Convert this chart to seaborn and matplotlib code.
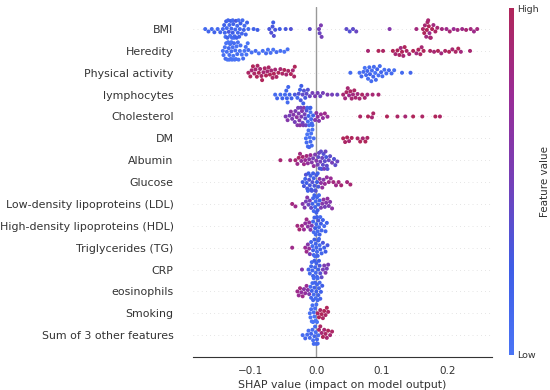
import matplotlib
matplotlib.use("Agg")
import matplotlib.pyplot as plt
import matplotlib.cm as cm
from matplotlib.colors import LinearSegmentedColormap, Normalize
import pandas as pd
import seaborn as sns

features = ["BMI", "Heredity", "Physical activity", "lymphocytes", "Cholesterol", "DM",
            "Albumin", "Glucose", "Low-density lipoproteins (LDL)",
            "High-density lipoproteins (HDL)", "Triglycerides (TG)", "CRP",
            "eosinophils", "Smoking", "Sum of 3 other features"]

bmi_shap = [-0.170, -0.165, -0.160, -0.156, -0.151, -0.147,
            -0.143, -0.141, -0.140, -0.139, -0.138, -0.137, -0.136, -0.135, -0.134, -0.133,
            -0.132, -0.131, -0.130, -0.129, -0.128, -0.128, -0.127, -0.126, -0.125, -0.124,
            -0.123, -0.122, -0.121, -0.120, -0.119, -0.118, -0.117, -0.116, -0.114, -0.113,
            -0.111, -0.110, -0.108, -0.106, -0.104,
            -0.096, -0.090, -0.072, -0.069, -0.067, -0.066, -0.065, -0.063, -0.056, -0.047, -0.039, -0.010,
            0.004, 0.005, 0.007, 0.008,
            0.046, 0.051, 0.056, 0.061,
            0.112, 0.153,
            0.163, 0.165, 0.166, 0.168, 0.169, 0.170, 0.171, 0.172, 0.173, 0.174, 0.175, 0.177, 0.179, 0.182, 0.185,
            0.192, 0.199, 0.204, 0.210, 0.216, 0.223, 0.229, 0.236, 0.241, 0.246]
bmi_value = [0.1, 0.15, 0.1, 0.2, 0.1, 0.15,
             0.1, 0.2, 0.15, 0.05, 0.25, 0.1, 0.2, 0.15, 0.3, 0.1,
             0.05, 0.2, 0.15, 0.1, 0.25, 0.1, 0.2, 0.05, 0.15, 0.1,
             0.3, 0.2, 0.1, 0.15, 0.05, 0.2, 0.1, 0.25, 0.15, 0.1,
             0.2, 0.1, 0.15, 0.2, 0.1,
             0.2, 0.25, 0.3, 0.35, 0.3, 0.25, 0.35, 0.3, 0.25, 0.3, 0.35, 0.4,
             0.5, 0.45, 0.55, 0.5,
             0.4, 0.35, 0.4, 0.45,
             0.6, 0.85,
             0.95, 1.0, 0.9, 0.85, 1.0, 0.95, 0.9, 1.0, 0.8, 0.95, 0.9, 1.0, 0.85, 0.95, 0.9,
             0.85, 0.8, 0.9, 0.75, 0.85, 0.8, 0.9, 0.85, 0.8, 0.85]

heredity_shap = [-0.143, -0.142, -0.140, -0.139, -0.138, -0.137, -0.136, -0.135, -0.134, -0.133,
                 -0.133, -0.132, -0.131, -0.130, -0.130, -0.129, -0.128, -0.127, -0.126, -0.125,
                 -0.124, -0.123, -0.122, -0.121, -0.120, -0.119, -0.117, -0.116, -0.114, -0.112,
                 -0.110, -0.108, -0.107, -0.105, -0.104,
                 -0.099, -0.093, -0.088, -0.082, -0.077, -0.074, -0.070, -0.066, -0.061, -0.055, -0.049, -0.044,
                 0.079, 0.095, 0.102, 0.117, 0.121, 0.124, 0.127, 0.129, 0.131, 0.133,
                 0.135, 0.138, 0.142, 0.148, 0.153, 0.156, 0.159, 0.161, 0.164, 0.174,
                 0.180, 0.186, 0.191, 0.197, 0.203, 0.208, 0.213, 0.217, 0.221, 0.235]
heredity_value = [0.0, 0.05, 0.0, 0.1, 0.0, 0.05, 0.0, 0.0, 0.1, 0.05,
                  0.0, 0.05, 0.0, 0.1, 0.0, 0.0, 0.05, 0.0, 0.1, 0.0,
                  0.05, 0.0, 0.0, 0.1, 0.05, 0.0, 0.0, 0.05, 0.0, 0.1,
                  0.0, 0.05, 0.0, 0.0, 0.1,
                  0.05, 0.1, 0.0, 0.05, 0.1, 0.0, 0.05, 0.0, 0.1, 0.05, 0.0, 0.05,
                  0.9, 1.0, 0.95, 1.0, 0.9, 1.0, 0.95, 0.85, 1.0, 0.9,
                  1.0, 0.95, 0.9, 1.0, 0.85, 1.0, 0.95, 0.9, 1.0, 0.95,
                  0.9, 1.0, 0.85, 0.95, 1.0, 0.9, 0.95, 1.0, 0.85, 0.9]

activity_shap = [-0.104, -0.101, -0.099, -0.097, -0.095, -0.093, -0.091, -0.090, -0.088, -0.086,
                 -0.084, -0.083, -0.081, -0.079, -0.077, -0.075, -0.073, -0.071, -0.069, -0.067,
                 -0.065, -0.063, -0.061, -0.058, -0.055, -0.052, -0.049, -0.046, -0.043, -0.039,
                 -0.036, -0.034, -0.033,
                 0.052, 0.066, 0.069, 0.072, 0.074, 0.076, 0.078, 0.079, 0.081, 0.082,
                 0.084, 0.085, 0.087, 0.088, 0.090, 0.091, 0.093, 0.095, 0.097, 0.099,
                 0.101, 0.104, 0.107, 0.111, 0.115, 0.119, 0.131, 0.144]
activity_value = [0.95, 1.0, 0.9, 1.0, 0.95, 0.9, 1.0, 0.95, 1.0, 0.9,
                  0.95, 1.0, 0.9, 0.95, 1.0, 0.9, 0.95, 1.0, 0.9, 0.95,
                  1.0, 0.9, 0.95, 1.0, 0.9, 0.95, 1.0, 0.9, 0.95, 1.0,
                  0.9, 0.95, 1.0,
                  0.1, 0.05, 0.15, 0.1, 0.0, 0.1, 0.15, 0.05, 0.1, 0.2,
                  0.1, 0.05, 0.15, 0.1, 0.0, 0.1, 0.2, 0.05, 0.1, 0.15,
                  0.1, 0.05, 0.1, 0.15, 0.1, 0.05, 0.1, 0.15]

lymph_shap = [-0.063, -0.060, -0.055, -0.052, -0.048, -0.046, -0.045, -0.044, -0.043, -0.041,
              -0.038, -0.033, -0.029, -0.027, -0.025, -0.024, -0.023, -0.021, -0.020, -0.019, -0.017, -0.015, -0.013,
              -0.010, -0.006, -0.002, 0.002, 0.006, 0.010, 0.017, 0.024, 0.032,
              0.041, 0.044, 0.046, 0.048, 0.050, 0.052, 0.054, 0.056, 0.058, 0.060,
              0.063, 0.066, 0.070, 0.074, 0.078, 0.086, 0.095]
lymph_value = [0.1, 0.15, 0.1, 0.2, 0.1, 0.15, 0.2, 0.1, 0.15, 0.2,
               0.2, 0.3, 0.15, 0.35, 0.2, 0.3, 0.25, 0.4, 0.2, 0.35, 0.3, 0.4, 0.35,
               0.45, 0.5, 0.55, 0.5, 0.45, 0.5, 0.55, 0.5, 0.45,
               0.9, 0.85, 0.95, 0.9, 0.8, 0.95, 0.9, 0.85, 0.95, 0.9,
               0.85, 0.9, 0.95, 0.9, 0.85, 0.9, 0.9]

chol_shap = [-0.047, -0.044, -0.041, -0.039, -0.037, -0.035, -0.033, -0.032, -0.030, -0.029,
             -0.028, -0.027, -0.026, -0.025, -0.024, -0.023, -0.022, -0.021, -0.020, -0.019,
             -0.018, -0.017, -0.016, -0.015,
             -0.014, -0.013, -0.012, -0.011, -0.010, -0.009, -0.009, -0.008, -0.007, -0.006, -0.005,
             -0.002, 0.000, 0.002, 0.004, 0.007, 0.010, 0.013, 0.017,
             0.067, 0.079, 0.085, 0.087, 0.108, 0.124, 0.136, 0.148, 0.162, 0.182, 0.189]
chol_value = [0.55, 0.6, 0.5, 0.65, 0.55, 0.6, 0.5, 0.55, 0.65, 0.6,
              0.5, 0.55, 0.6, 0.65, 0.5, 0.55, 0.6, 0.45, 0.55, 0.6,
              0.5, 0.4, 0.45, 0.35,
              0.15, 0.1, 0.2, 0.1, 0.15, 0.05, 0.2, 0.1, 0.15, 0.1, 0.2,
              0.6, 0.65, 0.7, 0.6, 0.75, 0.7, 0.8, 0.75,
              0.95, 1.0, 0.9, 0.95, 1.0, 0.95, 0.9, 1.0, 0.95, 1.0, 0.95]

dm_shap = [-0.016, -0.015, -0.014, -0.013, -0.012, -0.011, -0.010, -0.009, -0.008, -0.007, -0.006, -0.004,
           0.041, 0.044, 0.047, 0.050, 0.054, 0.063, 0.067, 0.071, 0.075, 0.078]
dm_value = [0.05, 0.1, 0.0, 0.1, 0.05, 0.15, 0.0, 0.1, 0.05, 0.1, 0.0, 0.05,
            1.0, 0.95, 1.0, 0.9, 1.0, 0.95, 1.0, 0.9, 1.0, 0.95]

albumin_shap = [-0.055, -0.040,
                -0.032, -0.029, -0.027, -0.025, -0.023, -0.021, -0.019, -0.017, -0.015, -0.013,
                -0.011, -0.009, -0.007, -0.005, -0.004, -0.002, 0.000, 0.002,
                0.003, 0.004, 0.005, 0.006, 0.007, 0.008, 0.009, 0.010, 0.011, 0.012,
                0.013, 0.014, 0.015, 0.016, 0.017, 0.019, 0.021, 0.024, 0.027, 0.029, 0.032]
albumin_value = [0.9, 0.85,
                 0.9, 0.8, 0.95, 0.85, 0.7, 0.9, 0.8, 0.75, 0.85, 0.7,
                 0.65, 0.75, 0.6, 0.5, 0.7, 0.55, 0.6, 0.5,
                 0.4, 0.45, 0.35, 0.5, 0.4, 0.3, 0.45, 0.4, 0.35, 0.5,
                 0.4, 0.45, 0.3, 0.4, 0.35, 0.45, 0.4, 0.5, 0.35, 0.4, 0.45]

glucose_shap = [-0.021, -0.019, -0.017, -0.016, -0.015, -0.014, -0.013, -0.012, -0.011, -0.010,
                -0.009, -0.008, -0.007, -0.006, -0.005, -0.004, -0.003, -0.002, -0.001, 0.000,
                0.001, 0.002, 0.003,
                0.005, 0.007, 0.009, 0.011, 0.013, 0.016, 0.019, 0.022, 0.026, 0.030,
                0.034, 0.038, 0.047, 0.052]
glucose_value = [0.25, 0.3, 0.2, 0.35, 0.25, 0.3, 0.2, 0.25, 0.35, 0.3,
                 0.2, 0.25, 0.3, 0.35, 0.25, 0.2, 0.3, 0.25, 0.35, 0.3,
                 0.25, 0.2, 0.3,
                 0.6, 0.65, 0.7, 0.6, 0.75, 0.7, 0.8, 0.75, 0.85, 0.8,
                 0.85, 0.9, 0.85, 0.9]

ldl_shap = [-0.037, -0.032,
            -0.021, -0.018, -0.016, -0.014, -0.012, -0.010, -0.008,
            -0.006, -0.005, -0.004, -0.003, -0.002, -0.001, 0.000, 0.001, 0.002, 0.003, 0.004, 0.005,
            0.007, 0.009, 0.011, 0.013, 0.015, 0.017, 0.019, 0.021, 0.024]
ldl_value = [0.85, 0.8,
             0.6, 0.55, 0.5, 0.6, 0.45, 0.5, 0.4,
             0.2, 0.15, 0.1, 0.2, 0.15, 0.1, 0.2, 0.15, 0.25, 0.2, 0.1, 0.2,
             0.55, 0.6, 0.65, 0.5, 0.6, 0.7, 0.55, 0.6, 0.65]

hdl_shap = [-0.029, -0.026, -0.022, -0.019, -0.017, -0.015, -0.013, -0.011, -0.009, -0.007,
            -0.005, -0.004, -0.003, -0.002, -0.001, 0.000, 0.001, 0.002, 0.003, 0.004,
            0.005, 0.006, 0.007, 0.008, 0.010, 0.012, 0.014, 0.016]
hdl_value = [0.85, 0.9, 0.8, 0.75, 0.7, 0.8, 0.65, 0.7, 0.6, 0.55,
             0.15, 0.1, 0.2, 0.25, 0.1, 0.15, 0.2, 0.1, 0.3, 0.15,
             0.2, 0.1, 0.25, 0.15, 0.2, 0.1, 0.15, 0.2]

tg_shap = [-0.037, -0.017, -0.015, -0.013, -0.011, -0.010,
           -0.008, -0.006, -0.005, -0.004, -0.003, -0.002, -0.001, 0.000, 0.001, 0.002,
           0.003, 0.004, 0.005, 0.006, 0.008, 0.010, 0.012, 0.014, 0.017]
tg_value = [0.8, 0.75, 0.8, 0.6, 0.7, 0.5,
            0.15, 0.1, 0.2, 0.15, 0.25, 0.1, 0.2, 0.15, 0.1, 0.2,
            0.25, 0.15, 0.1, 0.2, 0.15, 0.3, 0.2, 0.25, 0.3]

crp_shap = [-0.022,
            -0.012, -0.010, -0.008, -0.007, -0.006, -0.005, -0.004, -0.003, -0.002, -0.001,
            0.000, 0.001, 0.002, 0.003, 0.004, 0.005, 0.006,
            0.008, 0.010, 0.012, 0.014, 0.016, 0.018]
crp_value = [0.6,
             0.15, 0.1, 0.2, 0.1, 0.15, 0.2, 0.1, 0.25, 0.15, 0.1,
             0.2, 0.15, 0.1, 0.2, 0.25, 0.3, 0.35,
             0.4, 0.5, 0.55, 0.6, 0.5, 0.55]

eos_shap = [-0.029, -0.027, -0.025, -0.023, -0.021, -0.019, -0.017, -0.015, -0.013, -0.011,
            -0.009, -0.008, -0.007, -0.006, -0.005, -0.004, -0.003, -0.002, -0.001, 0.000,
            0.001, 0.002, 0.003, 0.004, 0.005, 0.006, 0.007, 0.009]
eos_value = [0.8, 0.75, 0.85, 0.7, 0.8, 0.65, 0.7, 0.75, 0.6, 0.55,
             0.1, 0.15, 0.2, 0.1, 0.15, 0.1, 0.2, 0.15, 0.1, 0.2,
             0.15, 0.1, 0.2, 0.15, 0.1, 0.15, 0.2, 0.25]

smoking_shap = [-0.010, -0.009, -0.008, -0.007, -0.006, -0.005, -0.004, -0.003, -0.002, -0.001, 0.000, 0.001,
                0.002, 0.004, 0.006, 0.008, 0.010, 0.012, 0.014, 0.016, 0.018]
smoking_value = [0.05, 0.0, 0.05, 0.0, 0.05, 0.0, 0.05, 0.0, 0.05, 0.0, 0.05, 0.0,
                 0.95, 1.0, 0.95, 1.0, 0.95, 1.0, 0.95, 1.0, 0.95]

other_shap = [-0.021, -0.017, -0.014, -0.012, -0.010, -0.008, -0.006, -0.005, -0.004, -0.003,
              -0.002, -0.001, 0.000, 0.001, 0.002, 0.003,
              0.004, 0.006, 0.008, 0.010, 0.012, 0.014, 0.016, 0.018, 0.021, 0.024]
other_value = [0.1, 0.15, 0.1, 0.05, 0.1, 0.15, 0.1, 0.05, 0.1, 0.15,
               0.1, 0.05, 0.1, 0.15, 0.1, 0.05,
               0.9, 0.95, 0.9, 1.0, 0.9, 0.95, 0.9, 1.0, 0.9, 0.95]

shap_lists = [bmi_shap, heredity_shap, activity_shap, lymph_shap, chol_shap, dm_shap,
              albumin_shap, glucose_shap, ldl_shap, hdl_shap, tg_shap, crp_shap,
              eos_shap, smoking_shap, other_shap]
value_lists = [bmi_value, heredity_value, activity_value, lymph_value, chol_value, dm_value,
               albumin_value, glucose_value, ldl_value, hdl_value, tg_value, crp_value,
               eos_value, smoking_value, other_value]

frames = []
for name, s, v in zip(features, shap_lists, value_lists):
    if len(s) != len(v):
        raise ValueError(f"{name}: {len(s)} shap vs {len(v)} values")
    frames.append(pd.DataFrame({"feature": name, "shap": s, "value": v}))
df = pd.concat(frames, ignore_index=True)

sns.set_style("white")
plt.rcParams["font.family"] = ["DejaVu Sans"]

cmap = LinearSegmentedColormap.from_list(
    "shap_like", ["#4a74f5", "#3e5de6", "#7540b8", "#9a2c96", "#b0265a"])

fig = plt.figure(figsize=(5.5, 3.9), dpi=100)
ax = fig.add_axes([0.351, 0.0846, 0.544, 0.897])

for i in range(len(features)):
    ax.axhline(i, color="#cccccc", lw=0.5, dashes=(1, 5), zorder=-1)
ax.axvline(0, color="#999999", lw=1.0, zorder=-1)

sns.swarmplot(data=df, x="shap", y="feature", hue="value", order=features,
              palette=cmap, hue_norm=(0, 1), size=2.4, orient="h",
              legend=False, ax=ax, zorder=3, warn_thresh=1.0)
# enlarge the drawn dots slightly after layout so neighbours overlap like a SHAP beeswarm
for coll in ax.collections:
    sizes = coll.get_sizes()
    if len(sizes):
        coll.set_sizes(sizes * 1.45)

ax.set_xlim(-0.1886, 0.269)
ax.set_ylim(len(features), -1)
ax.set_xticks([-0.1, 0.0, 0.1, 0.2])
ax.set_ylabel("")
ax.set_xlabel("SHAP value (impact on model output)", fontsize=7.9, color="#333333", labelpad=3)
for side in ["top", "right", "left"]:
    ax.spines[side].set_visible(False)
ax.spines["bottom"].set_color("#333333")
ax.spines["bottom"].set_linewidth(0.8)
ax.tick_params(axis="y", length=0, pad=14, labelsize=7.9, labelcolor="#333333")
ax.tick_params(axis="x", length=3, width=0.6, color="#333333", labelsize=7.5, labelcolor="#333333")

cax = fig.add_axes([0.926, 0.09, 0.009, 0.889])
sm = cm.ScalarMappable(norm=Normalize(0, 1), cmap=cmap)
cb = fig.colorbar(sm, cax=cax, ticks=[0, 1])
cb.set_ticklabels(["Low", "High"])
cb.set_label("Feature value", size=7.5, labelpad=1, color="#333333")
cb.ax.tick_params(labelsize=6.8, length=0, pad=2, labelcolor="#333333")
cb.outline.set_visible(False)

fig.savefig("out.png", dpi=100)
